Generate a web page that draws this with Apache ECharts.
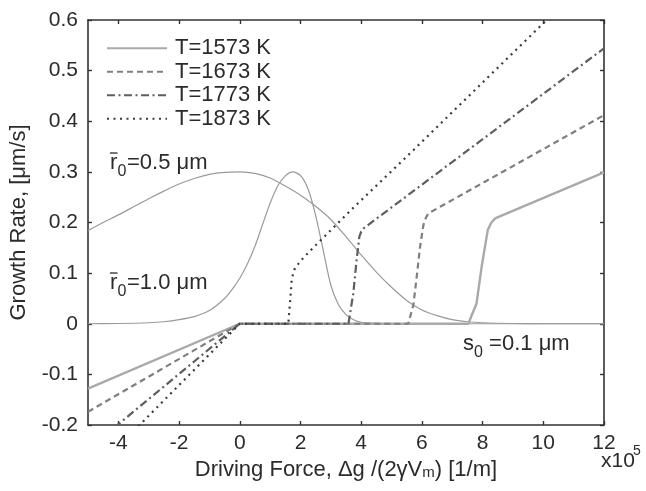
<!DOCTYPE html>
<html>
<head>
<meta charset="utf-8">
<script src="https://cdn.jsdelivr.net/npm/echarts@6/dist/echarts.min.js"></script>
<style>
  html, body { margin: 0; padding: 0; background: #fff; }
  #chart { width: 646px; height: 491px; }
</style>
</head>
<body>
<div id="chart"></div>
<script>
// Growth rate vs. driving force for four temperatures (s0 = 0.1 µm),
// plus two particle-size distributions drawn on the same scale.

const xTickValues = [-4, -2, 0, 2, 4, 6, 8, 10, 12];

const seriesNames = ['T=1573 K', 'T=1673 K', 'T=1773 K', 'T=1873 K'];

const rate1573 = [[-5, -0.128], [0, 0], [7.53, 0], [7.8, 0.04], [7.97, 0.113], [8.17, 0.185],
  [8.28, 0.199], [8.41, 0.208], [12, 0.299]];
const rate1673 = [[-5, -0.174], [0, 0], [5.55, 0], [5.72, 0.037], [5.83, 0.093], [5.94, 0.152],
  [6.05, 0.195], [6.13, 0.209], [6.21, 0.218], [6.6, 0.231], [12, 0.412]];
const rate1773 = [[-5, -0.248], [0, 0], [3.58, 0], [3.74, 0.06], [3.85, 0.126], [3.94, 0.172],
  [4.0, 0.182], [4.07, 0.188], [12, 0.544]];
const rate1873 = [[-5, -0.303], [0, 0], [1.6, 0], [1.66, 0.045], [1.71, 0.086], [1.76, 0.1],
  [1.82, 0.11], [2.09, 0.13], [2.5, 0.155], [3.74, 0.229], [5.72, 0.343], [10.06, 0.597], [10.12, 0.601]];

// size distribution, mean radius 0.5 µm
const distR05 = [[-5, 0.184], [-4.5, 0.2], [-4, 0.215], [-3.5, 0.231], [-3, 0.247], [-2.5, 0.262],
  [-2, 0.276], [-1.5, 0.287], [-1, 0.295], [-0.5, 0.299], [0, 0.3], [0.5, 0.297], [1, 0.288],
  [1.5, 0.272], [2, 0.254], [2.5, 0.232], [3, 0.206], [3.5, 0.172], [4, 0.136], [4.5, 0.102],
  [5, 0.072], [5.5, 0.046], [6, 0.027], [6.5, 0.016], [7, 0.008], [7.5, 0.004], [8, 0.002],
  [9, 0.0005], [10, 0], [12, 0]];
// size distribution, mean radius 1.0 µm
const distR10 = [[-5, 0], [-4, 0.0005], [-3, 0.002], [-2.5, 0.004], [-2, 0.008], [-1.5, 0.014],
  [-1, 0.026], [-0.5, 0.05], [-0.25, 0.068], [0, 0.09], [0.25, 0.118], [0.5, 0.153], [0.75, 0.196],
  [1.0, 0.238], [1.25, 0.272], [1.5, 0.292], [1.75, 0.3], [2.0, 0.293], [2.25, 0.266], [2.5, 0.214],
  [2.75, 0.145], [3.0, 0.076], [3.25, 0.038], [3.5, 0.018], [3.75, 0.008], [4.0, 0.003], [4.5, 0.001],
  [5, 0], [12, 0]];

const FONT = '"Liberation Sans", Arial, Helvetica, sans-serif';
const INK = '#2b2b2b';
const AXIS = '#333';

const chart = echarts.init(document.getElementById('chart'), null, { renderer: 'canvas' });

// text with a subscript, optionally with a bar over the first letter
function subLabel(x, base, main, sub, rest, barred, mainW, subW) {
  const els = [
    { type: 'text', x: x, y: base - 7.6, style: { text: main, font: '22px ' + FONT, fill: INK, verticalAlign: 'middle' } },
    { type: 'text', x: x + mainW, y: base + 6 - 5.5, style: { text: sub, font: '16px ' + FONT, fill: INK, verticalAlign: 'middle' } },
    { type: 'text', x: x + mainW + subW, y: base - 7.6, style: { text: rest, font: '22px ' + FONT, fill: INK, verticalAlign: 'middle' } }
  ];
  if (barred) {
    els.push({ type: 'line', shape: { x1: x, y1: base - 18, x2: x + mainW, y2: base - 18 },
      style: { stroke: INK, lineWidth: 1.3 } });
  }
  return { type: 'group', children: els };
}

const lineStyles = [
  { color: '#a9a9a9', width: 2.4, type: 'solid' },
  { color: '#7f7f7f', width: 2.2, type: [6, 4] },
  { color: '#5e5e5e', width: 2.2, type: [8, 3.5, 2, 3.5] },
  { color: '#3a3a3a', width: 2.2, type: [2, 4.5] }
];
const rates = [rate1573, rate1673, rate1773, rate1873];

const series = [
  { type: 'line', data: distR05, showSymbol: false, symbol: 'none', smooth: 0.25,
    silent: true, lineStyle: { color: '#9a9a9a', width: 1.2 }, z: 1 },
  { type: 'line', data: distR10, showSymbol: false, symbol: 'none', smooth: 0.25,
    silent: true, lineStyle: { color: '#9a9a9a', width: 1.2 }, z: 1 }
].concat(rates.map((d, i) => ({
  name: seriesNames[i], type: 'line', data: d, symbol: 'none', showSymbol: false, clip: true,
  lineStyle: lineStyles[i], itemStyle: { color: lineStyles[i].color }, z: 2 + i
})));

const baseAxisLine = { show: true, onZero: false, lineStyle: { color: AXIS, width: 1.6 } };

chart.setOption({
  animation: false,
  backgroundColor: '#fff',
  grid: { left: 88, right: 42, top: 20, bottom: 66, containLabel: false },
  legend: {
    data: seriesNames, orient: 'vertical', left: 101, top: 32,
    itemWidth: 60, itemHeight: 12, itemGap: 1,
    itemStyle: { opacity: 0 },
    textStyle: { fontFamily: FONT, fontSize: 22, color: INK, lineHeight: 22.5, padding: [0, 0, 0, 3] }
  },
  xAxis: [
    {
      type: 'value', min: -5, max: 12, position: 'bottom',
      name: 'Driving Force, Δg /(2γV{s|m}) [1/m]', nameLocation: 'middle', nameGap: 28,
      nameTextStyle: { fontFamily: FONT, fontSize: 22, color: INK, verticalAlign: 'top',
        rich: { s: { fontFamily: FONT, fontSize: 15, color: INK, padding: [5, 0, 0, 0] } } },
      axisLine: baseAxisLine,
      axisTick: { inside: true, length: 4, customValues: xTickValues, lineStyle: { color: AXIS, width: 1.4 } },
      axisLabel: { customValues: xTickValues, fontFamily: FONT, fontSize: 21, color: INK, margin: 8 },
      splitLine: { show: false }
    },
    {
      type: 'value', min: -5, max: 12, position: 'top',
      axisLine: baseAxisLine,
      axisTick: { inside: true, length: 4, customValues: xTickValues, lineStyle: { color: AXIS, width: 1.4 } },
      axisLabel: { show: false }, splitLine: { show: false }
    }
  ],
  yAxis: [
    {
      type: 'value', min: -0.2, max: 0.6, interval: 0.1, position: 'left',
      name: 'Growth Rate, [μm/s]', nameLocation: 'middle', nameGap: 58,
      nameTextStyle: { fontFamily: FONT, fontSize: 22, color: INK },
      axisLine: baseAxisLine,
      axisTick: { inside: true, length: 4, lineStyle: { color: AXIS, width: 1.4 } },
      axisLabel: { fontFamily: FONT, fontSize: 21, color: INK, margin: 10 },
      splitLine: { show: false }
    },
    {
      type: 'value', min: -0.2, max: 0.6, interval: 0.1, position: 'right',
      axisLine: baseAxisLine,
      axisTick: { inside: true, length: 4, lineStyle: { color: AXIS, width: 1.4 } },
      axisLabel: { show: false }, splitLine: { show: false }
    }
  ],
  graphic: [
    subLabel(110, 171, 'r', '0', '=0.5 μm', true, 7.5, 9.5),
    subLabel(110, 291, 'r', '0', '=1.0 μm', true, 7.5, 9.5),
    subLabel(463, 352, 's', '0', ' =0.1 μm', false, 11, 9),
    { type: 'text', x: 601, y: 469 - 7.3, style: { text: 'x10', font: '21px ' + FONT, fill: INK, verticalAlign: 'middle' } },
    { type: 'text', x: 633, y: 456 - 4.9, style: { text: '5', font: '14px ' + FONT, fill: INK, verticalAlign: 'middle' } }
  ],
  series: series
});
</script>
</body>
</html>
